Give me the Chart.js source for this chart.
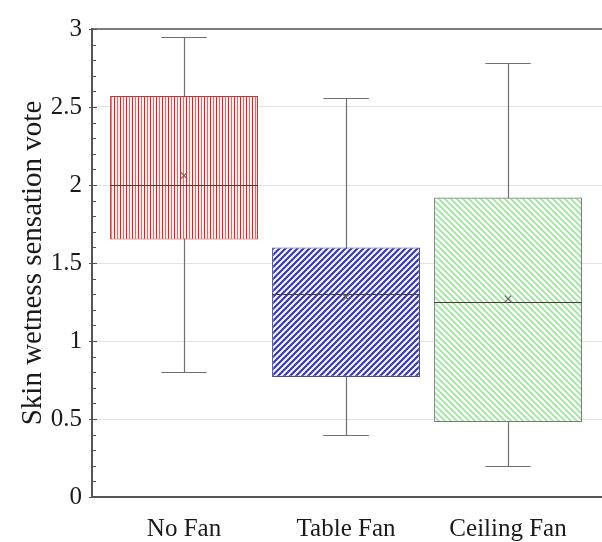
<!DOCTYPE html>
<html>
<head>
<meta charset="utf-8">
<script src="https://cdn.jsdelivr.net/npm/chart.js@4.4.1/dist/chart.umd.min.js"></script>
<style>
  html, body { margin: 0; padding: 0; background: #ffffff; }
  #wrap { width: 602px; height: 542px; }
</style>
</head>
<body>
<div id="wrap"><canvas id="chart" width="602" height="542"></canvas></div>
<script>
// Box-plot statistics per condition
const categories = ['No Fan', 'Table Fan', 'Ceiling Fan'];
const minVals    = [0.80, 0.40, 0.20];
const q1Vals     = [1.65, 0.77, 0.48];
const medianVals = [2.00, 1.30, 1.25];
const q3Vals     = [2.57, 1.60, 1.92];
const maxVals    = [2.95, 2.56, 2.78];
const meanVals   = [2.06, 1.28, 1.27];
const yTicks     = [0, 0.5, 1, 1.5, 2, 2.5, 3];

const FONT = '"Liberation Serif", "Times New Roman", serif';

// Hatch fills for the boxes
function tile(w, h, paint) {
  const c = document.createElement('canvas');
  c.width = w; c.height = h;
  const g = c.getContext('2d');
  paint(g, w, h);
  return g.createPattern(c, 'repeat');
}
const redVertical = tile(6, 6, (g, w, h) => {
  g.fillStyle = '#fdeaea'; g.fillRect(0, 0, w, h);
  g.fillStyle = '#d22424'; g.fillRect(0, 0, 1, h);
  g.fillStyle = '#df6a6a'; g.fillRect(3, 0, 1, h);
});
const blueForward = tile(6, 6, (g, w, h) => {
  g.fillStyle = '#f4f4ff'; g.fillRect(0, 0, w, h);
  g.strokeStyle = '#3535b0'; g.lineWidth = 2;
  g.beginPath();
  g.moveTo(-1, 1); g.lineTo(1, -1);
  g.moveTo(0, h); g.lineTo(w, 0);
  g.moveTo(w - 1, h + 1); g.lineTo(w + 1, h - 1);
  g.stroke();
});
const greenBack = tile(6, 6, (g, w, h) => {
  g.fillStyle = '#ffffff'; g.fillRect(0, 0, w, h);
  g.strokeStyle = '#a2e4a2'; g.lineWidth = 1.9;
  g.beginPath();
  g.moveTo(-1, h - 1); g.lineTo(1, h + 1);
  g.moveTo(0, 0); g.lineTo(w, h);
  g.moveTo(w - 1, -1); g.lineTo(w + 1, 1);
  g.stroke();
});

const boxFills   = [redVertical, blueForward, greenBack];
const boxBorders = ['#b53a3a', '#4a4a8c', '#7a7a7a'];
const xPos = categories.map((c, i) => i + 1);

// Whiskers, caps, median lines and inner tick marks
const boxExtras = {
  id: 'boxExtras',
  beforeDatasetsDraw(chart) {
    const { ctx, scales: { x, y } } = chart;
    ctx.save();
    ctx.strokeStyle = '#6f6f6f';
    ctx.lineWidth = 1.2;
    const capHalf = 0.14;
    xPos.forEach((p, i) => {
      const cx = Math.round(x.getPixelForValue(p)) + 0.5;
      const l = x.getPixelForValue(p - capHalf), r = x.getPixelForValue(p + capHalf);
      const yMin = Math.round(y.getPixelForValue(minVals[i])) + 0.5;
      const yMax = Math.round(y.getPixelForValue(maxVals[i])) + 0.5;
      ctx.beginPath();
      ctx.moveTo(cx, yMin); ctx.lineTo(cx, yMax);
      ctx.moveTo(l, yMin); ctx.lineTo(r, yMin);
      ctx.moveTo(l, yMax); ctx.lineTo(r, yMax);
      ctx.stroke();
    });
    ctx.restore();
  },
  afterDatasetDraw(chart, args) {
    if (args.index !== 0) return;
    const { ctx, scales: { y } } = chart;
    const meta = chart.getDatasetMeta(0);
    ctx.save();
    ctx.strokeStyle = '#4a3a3a';
    ctx.lineWidth = 1.2;
    meta.data.forEach((bar, i) => {
      const yy = Math.round(y.getPixelForValue(medianVals[i])) + 0.5;
      ctx.beginPath();
      ctx.moveTo(bar.x - bar.width / 2, yy);
      ctx.lineTo(bar.x + bar.width / 2, yy);
      ctx.stroke();
    });
    ctx.restore();
  },
  afterDraw(chart) {
    const { ctx, chartArea, scales: { y } } = chart;
    ctx.save();
    ctx.strokeStyle = '#555555';
    ctx.lineWidth = 1;
    for (let k = 0; k <= 30; k++) {
      const v = k / 10;
      const yy = Math.round(y.getPixelForValue(v)) + 0.5;
      const major = k % 5 === 0;
      ctx.beginPath();
      ctx.moveTo(chartArea.left - (major ? 3 : 0), yy);
      ctx.lineTo(chartArea.left + (major ? 5 : 4), yy);
      ctx.stroke();
    }
    ctx.restore();
  }
};

new Chart(document.getElementById('chart'), {
  type: 'bar',
  data: {
    datasets: [
      {
        label: 'IQR',
        data: xPos.map((p, i) => ({ x: p, y: [q1Vals[i], q3Vals[i]] })),
        backgroundColor: boxFills,
        borderColor: boxBorders,
        borderWidth: 1.2,
        borderSkipped: false,
        barPercentage: 0.913,
        categoryPercentage: 1,
        order: 2
      },
      {
        type: 'scatter',
        label: 'Mean',
        data: xPos.map((p, i) => ({ x: p, y: meanVals[i] })),
        pointStyle: 'crossRot',
        radius: 4.5,
        borderColor: '#666666',
        borderWidth: 1.1,
        order: 1
      }
    ]
  },
  options: {
    responsive: false,
    animation: false,
    layout: { autoPadding: false, padding: { top: 29, right: 0, bottom: 0, left: 0 } },
    plugins: { legend: { display: false }, tooltip: { enabled: false } },
    scales: {
      x: {
        type: 'linear',
        min: 0.432,
        max: 3.58,
        offset: false,
        afterBuildTicks(scale) { scale.ticks = xPos.map(v => ({ value: v })); },
        afterFit(scale) { scale.height = 45; scale.paddingLeft = 0; scale.paddingRight = 0; },
        ticks: {
          autoSkip: false,
          maxRotation: 0,
          padding: 17,
          color: '#1a1a1a',
          font: { family: FONT, size: 25 },
          callback: (v) => categories[v - 1]
        },
        grid: { display: false, drawTicks: false, offset: false },
        border: { display: true, color: '#555555', width: 2 }
      },
      y: {
        min: 0,
        max: 3,
        afterBuildTicks(scale) { scale.ticks = yTicks.map(v => ({ value: v })); },
        afterFit(scale) { scale.width = 92; },
        ticks: {
          padding: 10,
          color: '#1a1a1a',
          font: { family: FONT, size: 25 },
          callback: (v) => String(v)
        },
        grid: {
          drawTicks: false,
          color: (c) => c.tick && c.tick.value === 3 ? '#7e7e7e' : (c.tick && c.tick.value === 0 ? 'rgba(0,0,0,0)' : '#e2e2e2'),
          lineWidth: (c) => c.tick && c.tick.value === 3 ? 2 : 1
        },
        border: { display: true, color: '#555555', width: 2 },
        title: {
          display: true,
          text: 'Skin wetness sensation vote',
          color: '#1a1a1a',
          font: { family: FONT, size: 29 },
          padding: { top: 16, bottom: 0 }
        }
      }
    }
  },
  plugins: [boxExtras]
});
</script>
</body>
</html>
